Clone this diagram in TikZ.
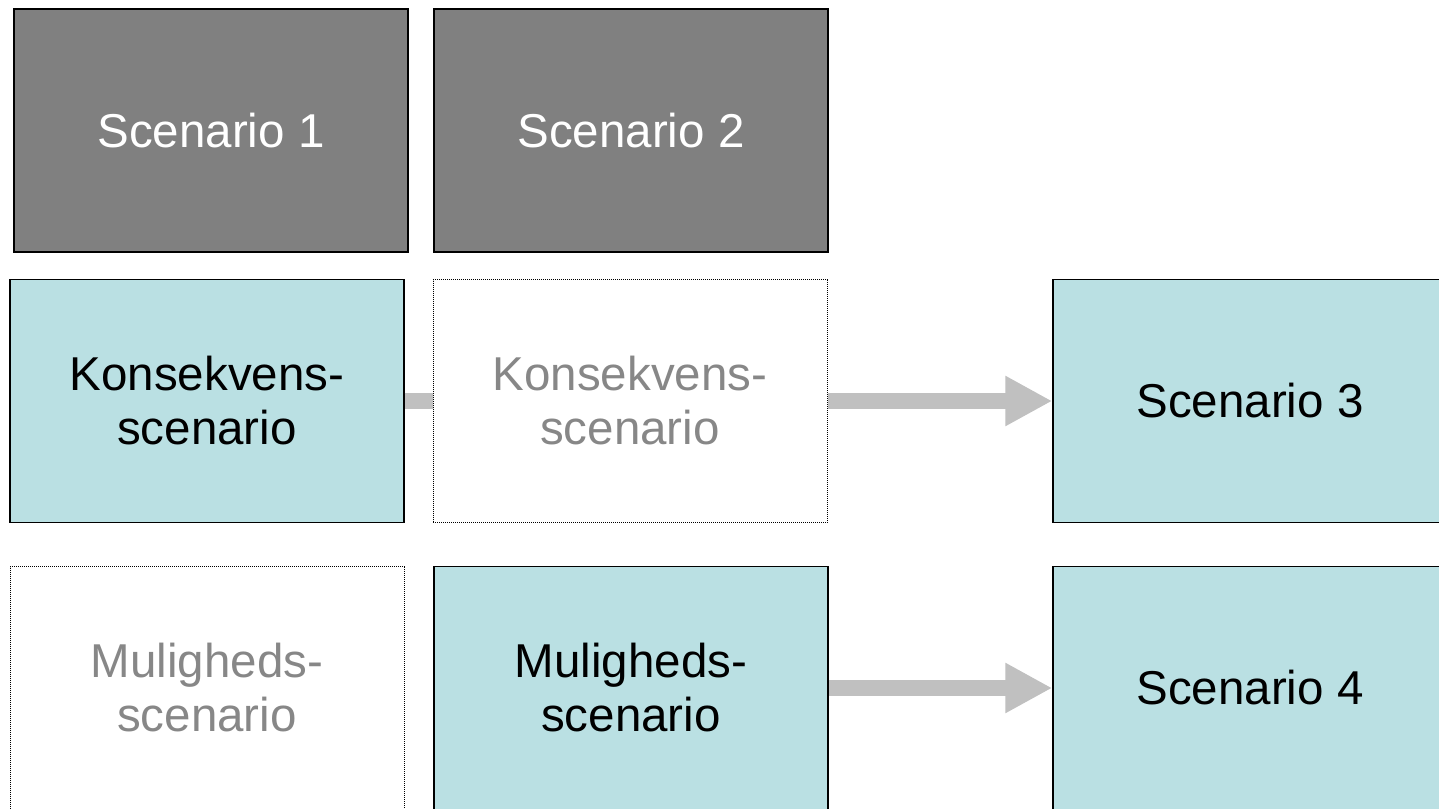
\documentclass[tikz,border=0pt]{standalone}
\usepackage{fontspec}
\setmainfont{Liberation Sans}
\usetikzlibrary{arrows.meta}
\definecolor{boxgray}{HTML}{808080}
\definecolor{teal}{HTML}{BAE0E3}
\definecolor{arrowgray}{HTML}{C0C0C0}
\definecolor{txtgray}{HTML}{878787}
\tikzset{
  box/.style={rectangle, minimum width=394pt, minimum height=243pt, inner sep=0pt,
    align=center, font=\fontsize{47.5}{54}\selectfont},
  darkbox/.style={box, draw=black, line width=1.5pt, fill=boxgray, text=white},
  tealbox/.style={box, draw=black, line width=1.5pt, fill=teal, text=black},
  ghostbox/.style={box, draw=black, line width=1pt, dash pattern=on 1pt off 1pt, fill=white, text=txtgray},
  bar/.style={draw=arrowgray, line width=16pt},
  fatarrow/.style={bar, -{Triangle[length=47pt,width=47pt]}}
}
\begin{document}
\begin{tikzpicture}[x=1pt,y=-1pt]
\useasboundingbox (0,0) rectangle (1439,808);
\clip (0,0) rectangle (1439,808);
\fill[white] (0,0) rectangle (1439,808);
\node[darkbox] (s1) at (211,130.5) {Scenario 1};
\node[darkbox] (s2) at (631,130.5) {Scenario 2};
\node[tealbox] (k1) at (207,401) {Konsekvens-\\scenario};
\node[ghostbox] (k2) at (630,401) {Konsekvens-\\scenario};
\node[tealbox] (s3) at (1250,401) {Scenario 3};
\node[ghostbox] (m1) at (207,688) {Muligheds-\\scenario};
\node[tealbox] (m2) at (631,688) {Muligheds-\\scenario};
\node[tealbox] (s4) at (1250,688) {Scenario 4};
\draw[bar] (k1.east) -- (k2.west);
\draw[fatarrow] (k2.east) -- (s3.west);
\draw[fatarrow] (m2.east) -- (s4.west);
\end{tikzpicture}
\end{document}
